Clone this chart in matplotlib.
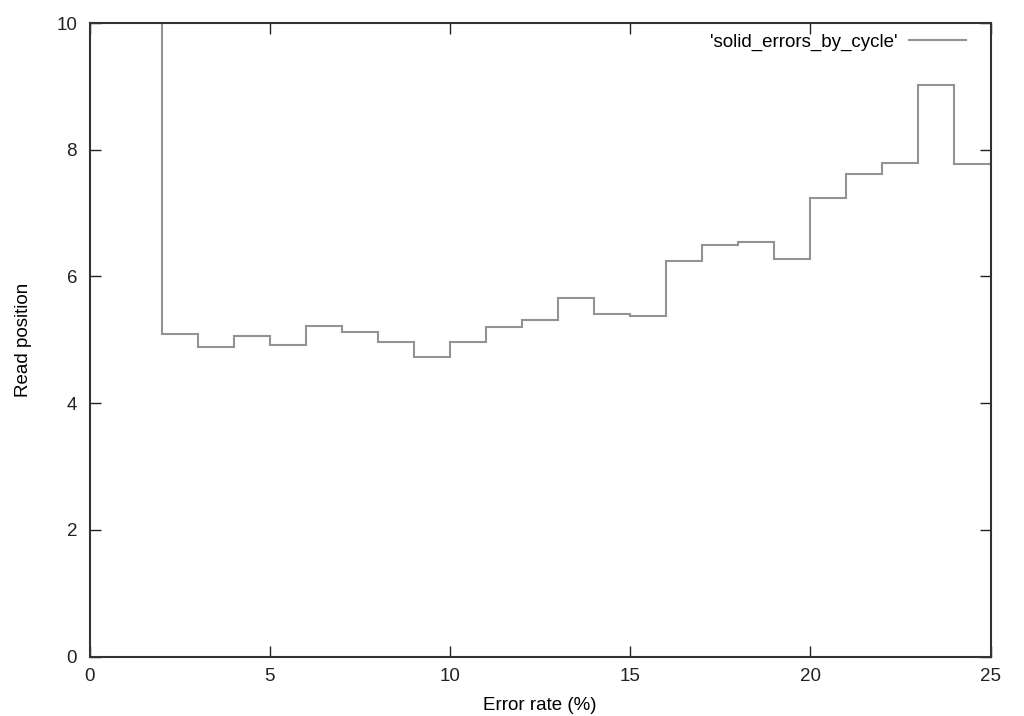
import matplotlib
matplotlib.use("Agg")
import matplotlib.pyplot as plt
import numpy as np

plt.rcParams['font.family'] = ['Liberation Sans', 'DejaVu Sans']

# Bin edges (error rate %) and step values (read position)
edges = [1, 2, 3, 4, 5, 6, 7, 8, 9, 10, 11, 12, 13, 14, 15, 16, 17, 18, 19, 20, 21, 22, 23, 24, 25]
values = [12.0, 5.09, 4.88, 5.06, 4.91, 5.22, 5.13, 4.97, 4.73, 4.97, 5.20, 5.31, 5.66,
          5.40, 5.38, 6.25, 6.50, 6.54, 6.27, 7.24, 7.62, 7.79, 9.02, 7.77]
series_label = "'solid_errors_by_cycle'"
x_ticks = [0, 5, 10, 15, 20, 25]
y_ticks = [0, 2, 4, 6, 8, 10]

FS = 13.5
W, H = 1024, 716
L, R, T, B = 89.5, 990.5, 23, 656.5

fig = plt.figure(figsize=(W/100, H/100), dpi=100)
ax = fig.add_axes([L/W, 1 - B/H, (R-L)/W, (B-T)/H])

ax.stairs(values, edges, baseline=None, color='#939393', linewidth=1.5, label=series_label)

ax.set_xlim(0, 25)
ax.set_ylim(0, 10)
ax.set_xticks(x_ticks)
ax.set_yticks(y_ticks)
ax.tick_params(direction='in', length=8, width=1, top=True, right=True,
               labelsize=FS, colors='#222222')
ax.tick_params(axis='y', pad=9)
ax.tick_params(axis='x', pad=8)
for s in ax.spines.values():
    s.set_linewidth(1.5)
    s.set_color('#333333')

ax.set_xlabel('Error rate (%)', fontsize=FS, va='center')
ax.set_ylabel('Read position', fontsize=FS, va='center')
ax.xaxis.set_label_coords(0.5, (B - 705) / (B - T))
ax.yaxis.set_label_coords((24 - L) / (R - L), 0.5 + (340 - (T + B) / 2) / -(B - T))

leg = ax.legend(loc='center right', frameon=False, markerfirst=False, fontsize=FS,
                handlelength=57/(FS*100/72), handletextpad=0.6, borderaxespad=0.0,
                borderpad=0.0,
                bbox_to_anchor=((966 - L) / (R - L), (B - 42.5) / (B - T)))

fig.savefig('out.png', dpi=100)
